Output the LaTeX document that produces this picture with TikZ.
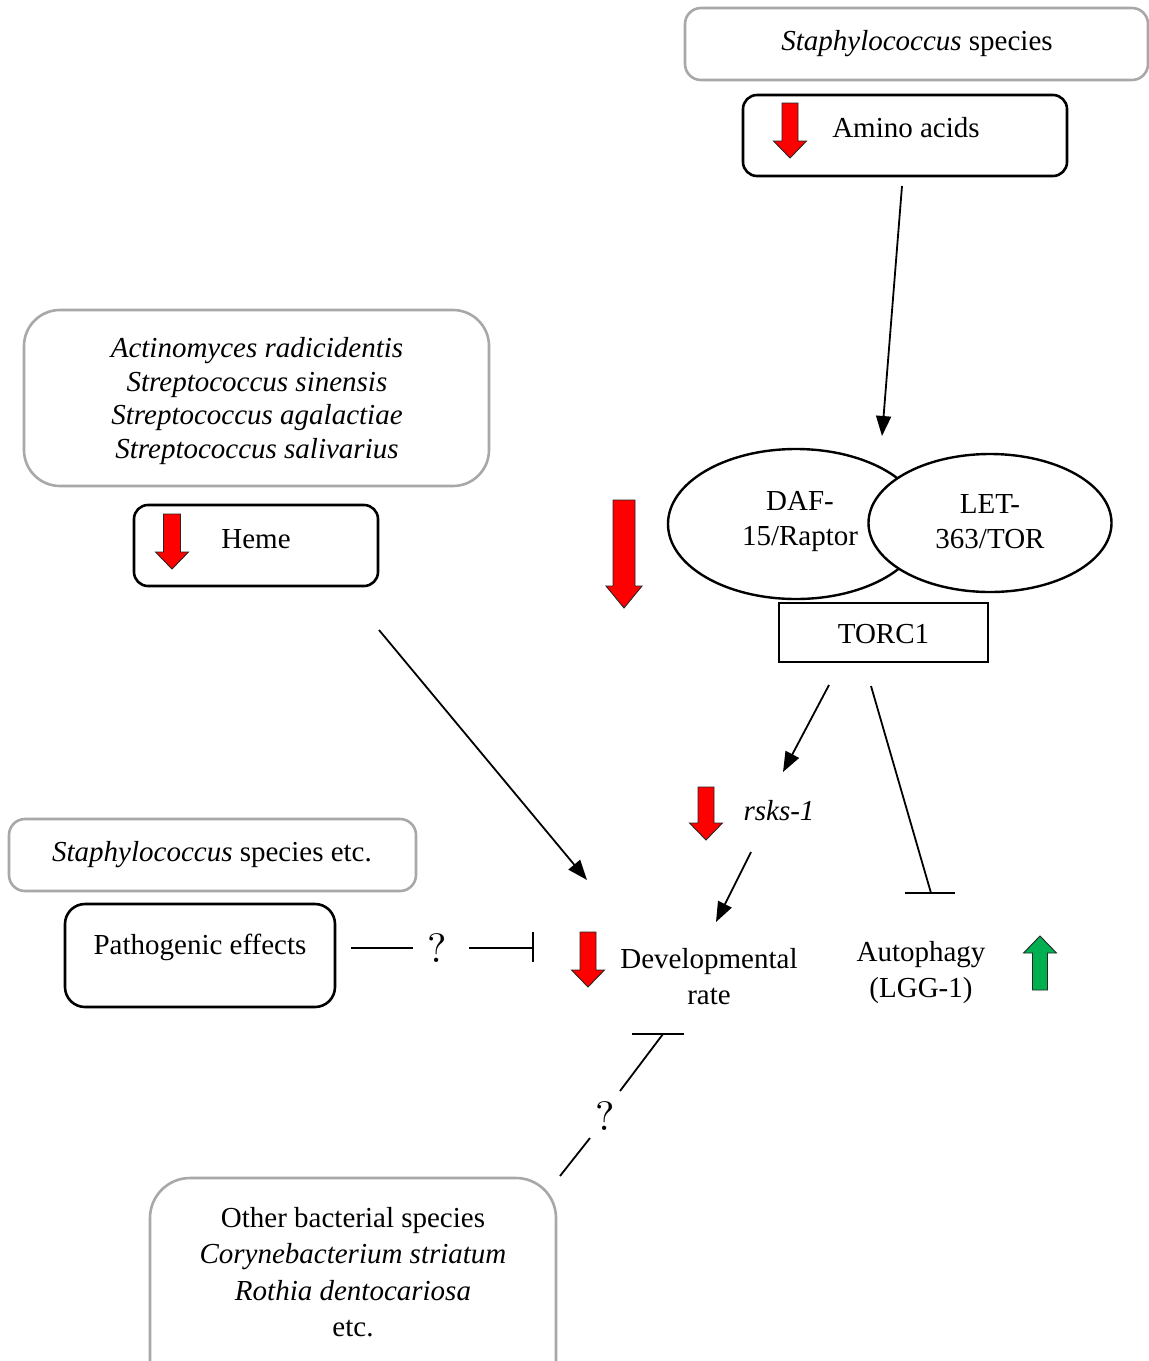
\documentclass[tikz,border=0pt]{standalone}
\usepackage{fontspec}
\setmainfont{Liberation Serif}
\newfontfamily\qfont{lmroman10-regular.otf}
\usetikzlibrary{arrows.meta,shapes.geometric}
\definecolor{boxgray}{RGB}{168,168,168}
\definecolor{downred}{RGB}{255,0,0}
\definecolor{upgreen}{RGB}{0,176,80}
\tikzset{
  pics/blockarrow/.style n args={5}{code={
    \draw[line width=0.9pt, draw=black!85, fill=#5, line join=miter]
      (-#2/2,0) -- (#2/2,0) -- (#2/2,#1-#4) -- (#3/2,#1-#4) -- (0,#1)
      -- (-#3/2,#1-#4) -- (-#2/2,#1-#4) -- cycle;
  }}
}
\begin{document}
\begin{tikzpicture}[x=1pt,y=-1pt,
  every node/.style={font=\fontsize{29}{35}\selectfont, inner sep=0pt, outer sep=0pt},
  graybox/.style={draw=boxgray, line width=2.6pt, fill=white, rectangle},
  blackbox/.style={draw=black, line width=2.6pt, rectangle, rounded corners=14pt},
  lbl/.style={align=center},
  qmark/.style={font=\fontsize{41}{45}\qfont},
  link/.style={line width=1.8pt},
  arr/.style={link, -{Triangle[length=20pt,width=15pt]}},
]
\useasboundingbox (0,0) rectangle (1149,1361);
\clip (0,0) rectangle (1149,1361);

% --- top: Staphylococcus / amino acids ---
\node[graybox, rounded corners=16pt, minimum width=463pt, minimum height=72pt] (staph) at (916.5,44) {};
\node[lbl] (staph-t) at (917,44) {\textit{Staphylococcus} species};
\node[blackbox, minimum width=324pt, minimum height=81pt] (amino) at (905,135.5) {};
\node[lbl] (amino-t) at (906,128) {Amino acids};
\pic at (790,103) {blockarrow={55}{16}{33}{17}{downred}};

% --- Actinomyces / heme ---
\node[graybox, rounded corners=36pt, minimum width=465pt, minimum height=176pt] (actin) at (256.5,398) {};
\node[lbl, font=\fontsize{29}{33.7}\selectfont\itshape] (actin-t) at (257,401)
  {Actinomyces radicidentis\\Streptococcus sinensis\\Streptococcus agalactiae\\Streptococcus salivarius};
\node[blackbox, minimum width=244pt, minimum height=81pt] (heme) at (256,545.5) {};
\node[lbl] (heme-t) at (256,539) {Heme};
\pic at (172,514) {blockarrow={55}{17}{33}{17}{downred}};

% --- TORC1 complex ---
\pic at (624,500) {blockarrow={108}{22}{36}{22}{downred}};
\node[draw, line width=2.4pt, ellipse, minimum width=256pt, minimum height=150pt] (daf) at (796,524) {};
\node[draw, line width=2.4pt, ellipse, fill=white, minimum width=243pt, minimum height=138pt] (let) at (990,523) {};
\node[lbl] (daf-t) at (800,522) {DAF-\\15/Raptor};
\node[lbl] (let-t) at (990,522) {LET-\\363/TOR};
\node[draw, line width=2.4pt, rectangle, minimum width=209pt, minimum height=59pt] (torc) at (883.5,632.5) {};
\node[lbl] (torc-t) at (883.5,634) {TORC1};

% --- downstream ---
\pic at (706,787) {blockarrow={53}{16}{33}{17}{downred}};
\node[lbl, font=\fontsize{29}{35}\selectfont\itshape] (rsks) at (779,811) {rsks-1};

\node[graybox, rounded corners=16pt, minimum width=407pt, minimum height=72pt] (staphetc) at (212.5,855) {};
\node[lbl] (staphetc-t) at (212,855) {\textit{Staphylococcus} species etc.};
\node[blackbox, rounded corners=20pt, minimum width=270pt, minimum height=103pt] (patho) at (200,955.5) {};
\node[lbl] (patho-t) at (200,947) {Pathogenic effects};

\pic at (588,932) {blockarrow={55}{16}{33}{17}{downred}};
\node[lbl, font=\fontsize{29}{36}\selectfont] (dev) at (709,977) {Developmental\\rate};
\node[lbl, font=\fontsize{29}{36}\selectfont] (auto) at (921,973) {Autophagy\\(LGG-1)};
\pic[rotate=180] at (1040,990) {blockarrow={54}{15}{33}{17}{upgreen}};

\node[qmark] (q1) at (437,948) {?};
\node[qmark] (q2) at (605,1116) {?};

\node[graybox, rounded corners=40pt, minimum width=406pt, minimum height=240pt] (other) at (353,1298) {};
\node[lbl, font=\fontsize{29}{36.3}\selectfont] (other-t) at (353,1272) {Other bacterial species\\\textit{Corynebacterium striatum}\\\textit{Rothia dentocariosa}\\etc.};

% --- connector end points ---
\coordinate (amino-out) at (902,186);
\coordinate (cplx-in) at (882,436);
\coordinate (heme-out) at (379,630);
\coordinate (dev-in1) at (587,880);
\coordinate (torc-out1) at (829,685);
\coordinate (rsks-in) at (783,772);
\coordinate (rsks-out) at (751,852);
\coordinate (dev-in2) at (716,922);
\coordinate (torc-out2) at (871,686);
\coordinate (auto-bar) at (931,893);
\coordinate (patho-out) at (351,948);
\coordinate (q1-w) at (413,948);
\coordinate (q1-e) at (469,948);
\coordinate (dev-bar) at (533,948);
\coordinate (devb-bar) at (663,1034);
\coordinate (q2-n) at (620,1091);
\coordinate (q2-s) at (590,1138);
\coordinate (other-out) at (560,1176);

% --- connectors ---
\draw[arr] (amino-out) -- (cplx-in);
\draw[arr] (heme-out) -- (dev-in1);
\draw[arr] (torc-out1) -- (rsks-in);
\draw[arr] (rsks-out) -- (dev-in2);

% TORC1 inhibits autophagy
\draw[link] (torc-out2) -- (auto-bar);
\draw[link] ([xshift=-26pt]auto-bar) -- ([xshift=24pt]auto-bar);

% pathogenic effects -- ? --| developmental rate
\draw[link] (patho-out) -- (q1-w);
\draw[link] (q1-e) -- (dev-bar);
\draw[link] ([yshift=16pt]dev-bar) -- ([yshift=-14pt]dev-bar);

% other bacteria -- ? --| developmental rate
\draw[link] (other-out) -- (q2-s);
\draw[link] (q2-n) -- (devb-bar);
\draw[link] ([xshift=-31pt]devb-bar) -- ([xshift=21pt]devb-bar);
\end{tikzpicture}
\end{document}
